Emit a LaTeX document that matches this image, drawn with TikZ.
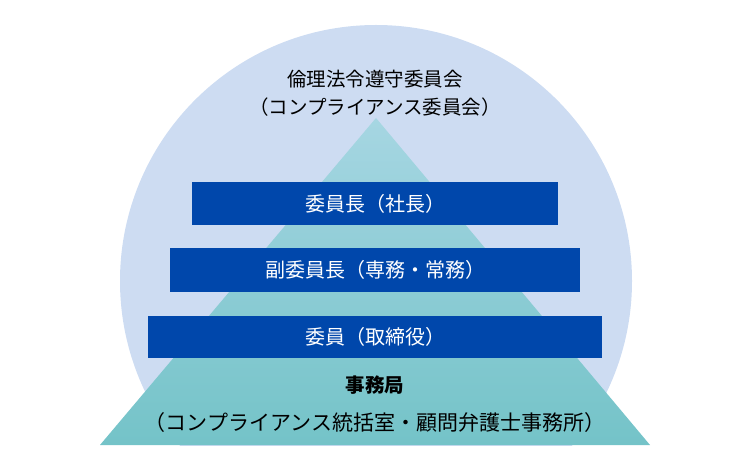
\documentclass[tikz,border=0pt]{standalone}
\usepackage{fontspec}
\setmainfont{Noto Sans CJK JP}
\definecolor{circ}{HTML}{CDDCF2}
\definecolor{tritop}{HTML}{A6D6E2}
\definecolor{tribot}{HTML}{74C3C8}
\definecolor{barblue}{HTML}{0047AB}
\tikzset{
  bar/.style={fill=barblue,draw=none,text=white,font=\fontsize{20}{22}\selectfont,inner sep=0pt},
  lbl/.style={text=black,font=\fontsize{19.5}{22}\selectfont,inner sep=0pt}
}
\begin{document}
\begin{tikzpicture}[x=1pt,y=-1pt]
\useasboundingbox (0,0) rectangle (750,470);
\begin{scope}
\clip (0,0) rectangle (750,445);
\fill[circ] (376,281) circle (256);
\end{scope}
\shade[top color=tritop,bottom color=tribot] (376,118) -- (650,445) -- (100,445) -- cycle;
\node[lbl] (t1) at (375,79) {倫理法令遵守委員会};
\node[lbl] (t2) at (375,107) {（コンプライアンス委員会）};
\node[bar,minimum width=366pt,minimum height=43pt] (b1) at (375,203.5) {委員長（社長）};
\node[bar,minimum width=410pt,minimum height=44pt] (b2) at (375,270) {副委員長（専務・常務）};
\node[bar,minimum width=454pt,minimum height=42pt] (b3) at (375,337) {委員（取締役）};
\node[lbl,font=\fontsize{19.5}{22}\selectfont\bfseries] (s1) at (375,385) {事務局};
\node[lbl,font=\fontsize{21}{24}\selectfont] (s2) at (375,423) {（コンプライアンス統括室・顧問弁護士事務所）};
\end{tikzpicture}
\end{document}
